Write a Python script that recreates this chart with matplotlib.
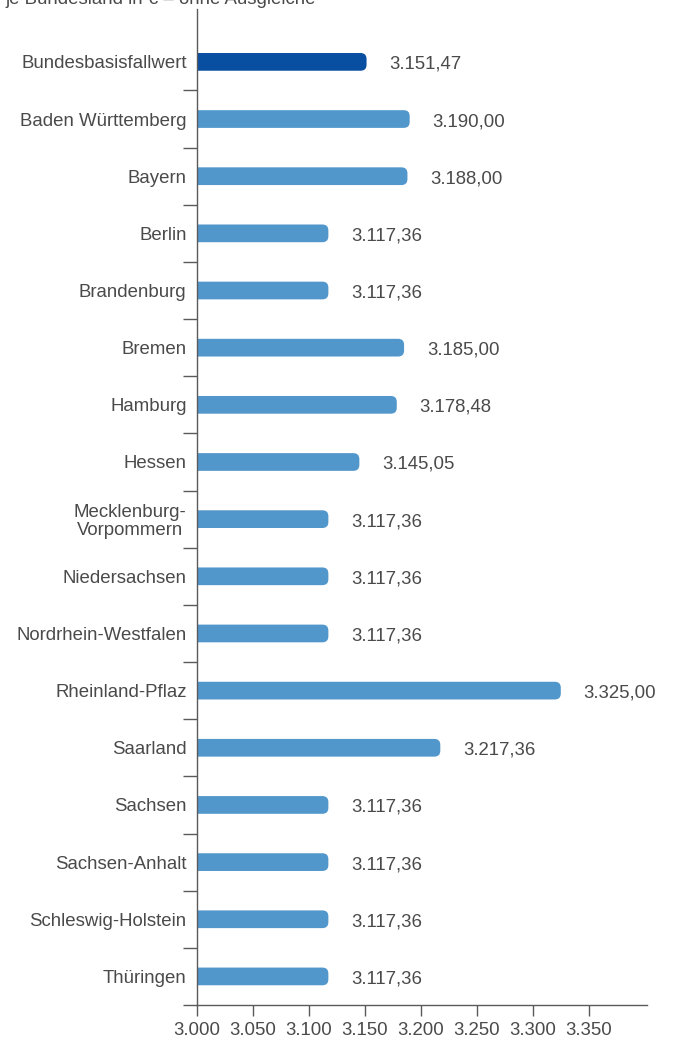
import matplotlib.pyplot as plt
import numpy as np
from matplotlib.patches import FancyBboxPatch

plt.rcParams['font.family'] = ['Liberation Sans', 'DejaVu Sans']

laender = ["Bundesbasisfallwert", "Baden Württemberg", "Bayern", "Berlin",
           "Brandenburg", "Bremen", "Hamburg", "Hessen",
           "Mecklenburg-\nVorpommern", "Niedersachsen", "Nordrhein-Westfalen",
           "Rheinland-Pflaz", "Saarland", "Sachsen", "Sachsen-Anhalt",
           "Schleswig-Holstein", "Thüringen"]
werte = [3151.47, 3190.00, 3188.00, 3117.36, 3117.36, 3185.00, 3178.48,
         3145.05, 3117.36, 3117.36, 3117.36, 3325.00, 3217.36, 3117.36,
         3117.36, 3117.36, 3117.36]
x_ticks = [3000, 3050, 3100, 3150, 3200, 3250, 3300, 3350]

dunkel = "#084ea1"
hell = "#5197cc"
text_col = "#4a4a4a"
line_col = "#5a5a5a"


def de_format(v, dec=2):
    s = f"{v:,.{dec}f}"
    return s.replace(",", "X").replace(".", ",").replace("X", ".")


fig = plt.figure(figsize=(6.75, 10.39), dpi=100)
ax = fig.add_axes([197 / 675, 1 - 1005 / 1039, 450 / 675, 996 / 1039])

x0, x1 = 3000, 3402
ax.set_xlim(x0, x1)
ax.set_ylim(16.46, -0.925)

# px -> data units, used for rounded bar ends
bbox = ax.get_window_extent()
ux = (x1 - x0) / bbox.width
uy = (16.46 + 0.925) / bbox.height

h = 0.31
for i, (name, v) in enumerate(zip(laender, werte)):
    col = dunkel if i == 0 else hell
    start = x0 - 10
    patch = FancyBboxPatch((start, i - h / 2), v - start, h,
                           boxstyle=f"round,pad=0,rounding_size={6 * ux}",
                           mutation_aspect=uy / ux,
                           fc=col, ec="none", clip_on=True)
    ax.add_patch(patch)
    ax.annotate(de_format(v), (v, i), xytext=(16.5, -1.8),
                textcoords="offset points", ha="left", va="center",
                fontsize=13.4, color=text_col)

ax.set_yticks(np.arange(len(laender)))
ax.set_yticklabels(laender, fontsize=13.4, color=text_col,
                   multialignment="center", linespacing=1.1)
ax.set_yticks(np.arange(len(laender)) + 0.5, minor=True)
ax.tick_params(axis="y", which="major", length=0, pad=7.5)
ax.tick_params(axis="y", which="minor", length=10, width=1, color=line_col,
               direction="out")

ax.set_xticks(x_ticks)
ax.set_xticklabels([de_format(t, 0) for t in x_ticks], fontsize=13.4,
                   color=text_col)
ax.tick_params(axis="x", length=8, width=1, color=line_col, pad=4)

for s in ["top", "right"]:
    ax.spines[s].set_visible(False)
for s in ["left", "bottom"]:
    ax.spines[s].set_color(line_col)
    ax.spines[s].set_linewidth(1)

fig.text(5 / 675, 1 - 4 / 1039, "je Bundesland in € – ohne Ausgleiche",
         fontsize=13.4, color=text_col, ha="left", va="baseline")

fig.savefig("out.png", dpi=100)
